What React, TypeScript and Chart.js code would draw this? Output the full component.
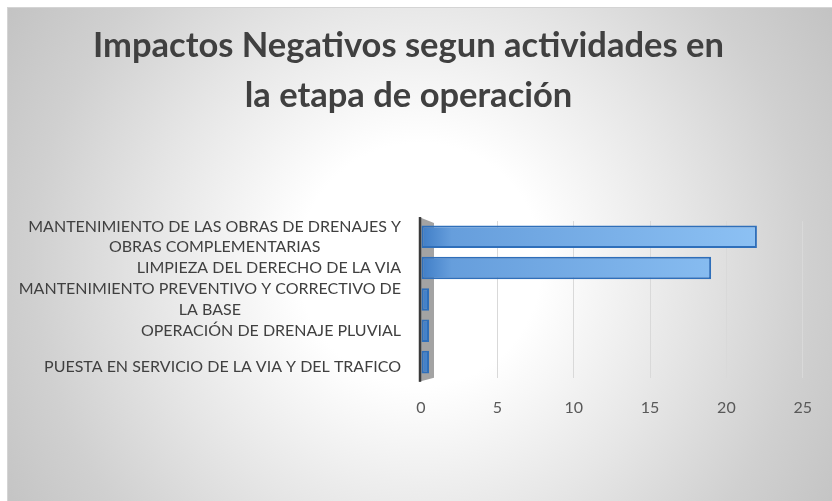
import React, { useEffect, useRef } from "react";
import { Chart, registerables } from "chart.js";

Chart.register(...registerables);

const categories: string[][] = [
  ["MANTENIMIENTO DE LAS OBRAS DE DRENAJES Y", "OBRAS COMPLEMENTARIAS"],
  ["LIMPIEZA DEL DERECHO DE LA VIA"],
  ["MANTENIMIENTO PREVENTIVO Y CORRECTIVO DE", "LA BASE"],
  ["OPERACIÓN DE DRENAJE PLUVIAL"],
  ["PUESTA EN SERVICIO DE LA VIA Y DEL TRAFICO"],
];
const values: number[] = [22, 19, 0, 0, 0];
const xTickValues: number[] = [0, 5, 10, 15, 20, 25];
const titleLines: string[] = [
  "Impactos Negativos segun actividades en",
  "la etapa de operación",
];

const FONT = "Lato, 'Open Sans', sans-serif";

const wallPlugin = {
  id: "wall",
  beforeDatasetsDraw(chart: any) {
    const { ctx, chartArea } = chart;
    const l = chartArea.left - 2;
    const t = chartArea.top - 4;
    const b = chartArea.bottom + 4;
    ctx.save();
    ctx.beginPath();
    ctx.moveTo(l, t);
    ctx.lineTo(l + 15, t + 6);
    ctx.lineTo(l + 15, b - 4);
    ctx.lineTo(l, b);
    ctx.closePath();
    ctx.fillStyle = "#a3a3a3";
    ctx.fill();
    ctx.beginPath();
    ctx.moveTo(l + 1, t);
    ctx.lineTo(l + 1, b);
    ctx.strokeStyle = "#3a3a3a";
    ctx.lineWidth = 2.5;
    ctx.stroke();
    ctx.restore();
  },
};

const labelPlugin = {
  id: "catLabels",
  afterDraw(chart: any) {
    const { ctx, chartArea } = chart;
    const yScale = chart.scales.y;
    const labels = chart.data.labels as string[][];
    const right = chartArea.left - 20;
    const lineH = 20.5;
    ctx.save();
    ctx.font = `16px ${FONT}`;
    ctx.fillStyle = "#404040";
    ctx.textAlign = "center";
    ctx.textBaseline = "middle";
    labels.forEach((lines, i) => {
      const y = yScale.getPixelForValue(i);
      const maxW = Math.max(...lines.map((s) => ctx.measureText(s).width));
      const cx = right - maxW / 2;
      const y0 = y - ((lines.length - 1) * lineH) / 2 + (i === 4 ? 5 : 0);
      lines.forEach((s, j) => ctx.fillText(s, cx, y0 + j * lineH));
    });
    ctx.restore();
  },
};

export default function App() {
  const ref = useRef<HTMLCanvasElement>(null);
  useEffect(() => {
    if (!ref.current) return;
    const chart = new Chart(ref.current, {
      type: "bar",
      data: {
        labels: categories,
        datasets: [
          {
            data: values,
            backgroundColor: (c: any) => {
              const { ctx, chartArea } = c.chart;
              if (!chartArea) return "#6aa3e0";
              const g = ctx.createLinearGradient(chartArea.left, 0, chartArea.right, 0);
              g.addColorStop(0, "#3f7dc6");
              g.addColorStop(0.08, "#669edc");
              g.addColorStop(1, "#92c6f7");
              return g;
            },
            borderColor: "#2f6fba",
            borderWidth: 2,
            borderSkipped: false,
            minBarLength: 8,
            barPercentage: 0.72,
            categoryPercentage: 1,
          },
        ],
      },
      options: {
        indexAxis: "y",
        responsive: true,
        maintainAspectRatio: false,
        animation: false,
        layout: { padding: { left: 0, right: 23, top: 0, bottom: 64 } },
        plugins: {
          legend: { display: false },
          tooltip: { enabled: false },
          title: {
            display: true,
            text: titleLines,
            color: "#404040",
            font: { family: FONT, size: 34.5, weight: "bold", lineHeight: 1.45 },
            padding: { top: 13, bottom: 100 },
          },
        },
        scales: {
          x: {
            min: 0,
            max: 25,
            afterBuildTicks: (s: any) => {
              s.ticks = xTickValues.map((v) => ({ value: v }));
            },
            ticks: {
              color: "#595959",
              font: { family: FONT, size: 16 },
              padding: 20,
            },
            grid: {
              color: (c: any) => (c.tick && c.tick.value === 0 ? "rgba(0,0,0,0)" : "#d9d9d9"),
              drawTicks: false,
            },
            border: { display: false },
          },
          y: {
            afterFit: (s: any) => {
              s.width = 413;
            },
            ticks: { display: false },
            grid: { display: false },
            border: { display: false },
          },
        },
      },
      plugins: [wallPlugin, labelPlugin],
    } as any);
    return () => chart.destroy();
  }, []);

  return (
    <div
      style={{
        position: "fixed",
        left: 7,
        top: 7,
        width: 825,
        height: 494,
        borderTop: "1px solid #d4d4d4",
        borderLeft: "1px solid #d4d4d4",
        boxSizing: "border-box",
        background:
          "radial-gradient(circle farthest-corner at 50% 52%, #ffffff 0%, #ffffff 25%, #e6e6e6 55%, #d0d0d0 80%, #c3c3c3 100%)",
      }}
    >
      <canvas ref={ref} />
    </div>
  );
}
